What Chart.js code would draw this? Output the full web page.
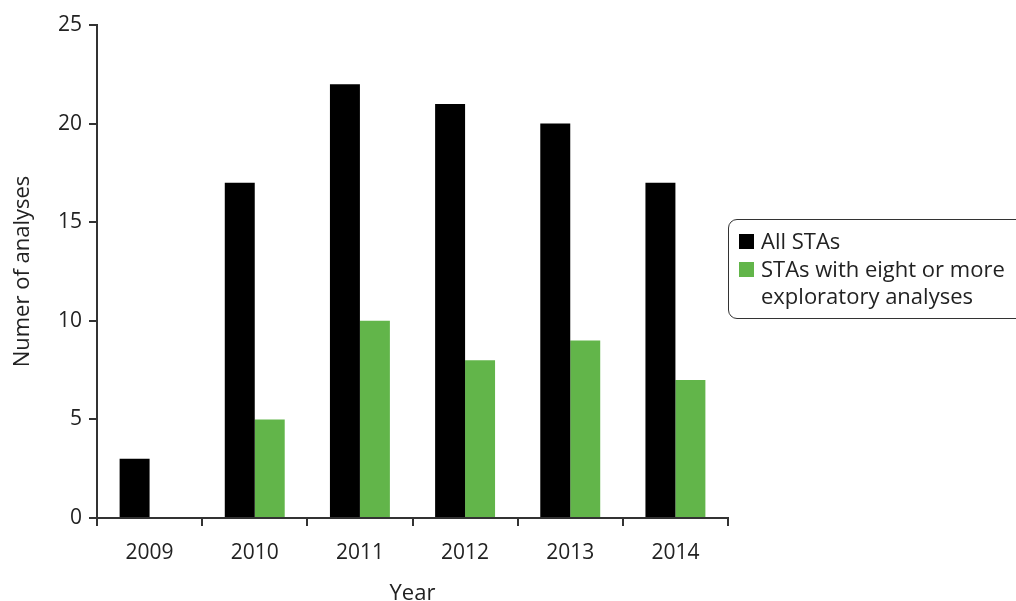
<!DOCTYPE html>
<html lang="en">
<head>
    <meta charset="UTF-8">
    <title>Number of analyses by year</title>
    <style>
        body {
            margin: 0;
            background: #fff;
            font-family: "Open Sans", Arial, sans-serif;
            overflow: hidden;
        }
        .wrap {
            position: relative;
            width: 1016px;
            height: 601px;
        }
        .legend {
            position: absolute;
            left: 728px;
            top: 219px;
            width: 330px;
            padding: 7px 0 8px 10px;
            border: 1.5px solid #333;
            border-radius: 9px;
            color: #222;
            font-size: 22px;
            line-height: 27.5px;
            white-space: nowrap;
        }
        .legend-item {
            display: flex;
            align-items: flex-start;
        }
        .legend-box {
            width: 15px;
            height: 15px;
            margin: 7px 7px 0 0;
            flex: none;
        }
    </style>
</head>
<body>
    <div class="wrap">
        <canvas id="chart" width="1016" height="601"></canvas>
        <div class="legend" id="legend"></div>
    </div>

    <script src="https://cdn.jsdelivr.net/npm/chart.js"></script>
    <script>
        const years = ['2009', '2010', '2011', '2012', '2013', '2014'];
        const allStas = [3, 17, 22, 21, 20, 17];
        const eightOrMore = [0, 5, 10, 8, 9, 7];
        const seriesLabels = ['All STAs', ['STAs with eight or more', 'exploratory analyses']];
        const seriesColors = ['#000000', '#62b54a'];

        const tickFont = { family: '"Open Sans", Arial, sans-serif', size: 21 };
        const titleFont = { family: '"Open Sans", Arial, sans-serif', size: 22 };

        const ctx = document.getElementById('chart').getContext('2d');
        const chart = new Chart(ctx, {
            type: 'bar',
            data: {
                labels: years,
                datasets: [{
                    label: seriesLabels[0],
                    data: allStas,
                    backgroundColor: seriesColors[0]
                }, {
                    label: seriesLabels[1],
                    data: eightOrMore,
                    backgroundColor: seriesColors[1]
                }]
            },
            options: {
                responsive: false,
                animation: false,
                layout: { padding: { top: 25, right: 288, left: 0, bottom: 0 } },
                datasets: {
                    bar: { categoryPercentage: 0.57, barPercentage: 1.0 }
                },
                plugins: {
                    legend: { display: false },
                    tooltip: { enabled: false }
                },
                scales: {
                    x: {
                        grid: {
                            offset: true,
                            drawOnChartArea: false,
                            drawTicks: true,
                            tickLength: 8,
                            color: '#333',
                            lineWidth: 2
                        },
                        border: { color: '#333', width: 2 },
                        ticks: { color: '#222', font: tickFont, padding: 14 },
                        title: {
                            display: true,
                            text: 'Year',
                            color: '#222',
                            font: titleFont,
                            padding: { top: 15, bottom: -6 }
                        },
                        afterFit: s => { s.height = 83; }
                    },
                    y: {
                        min: 0,
                        max: 25,
                        ticks: { stepSize: 5, color: '#222', font: tickFont, padding: 7 },
                        grid: {
                            drawOnChartArea: false,
                            drawTicks: true,
                            tickLength: 8,
                            color: '#333',
                            lineWidth: 2
                        },
                        border: { color: '#333', width: 2 },
                        title: {
                            display: true,
                            text: 'Numer of analyses',
                            color: '#222',
                            font: titleFont,
                            padding: { top: 10, bottom: 10 }
                        },
                        afterFit: s => { s.width = 97; }
                    }
                }
            }
        });

        // HTML legend built from the dataset labels and colours
        const legend = document.getElementById('legend');
        chart.data.datasets.forEach(ds => {
            const item = document.createElement('div');
            item.className = 'legend-item';
            const box = document.createElement('span');
            box.className = 'legend-box';
            box.style.background = ds.backgroundColor;
            const text = document.createElement('span');
            text.innerHTML = [].concat(ds.label).join('<br>');
            item.appendChild(box);
            item.appendChild(text);
            legend.appendChild(item);
        });
    </script>
</body>
</html>
